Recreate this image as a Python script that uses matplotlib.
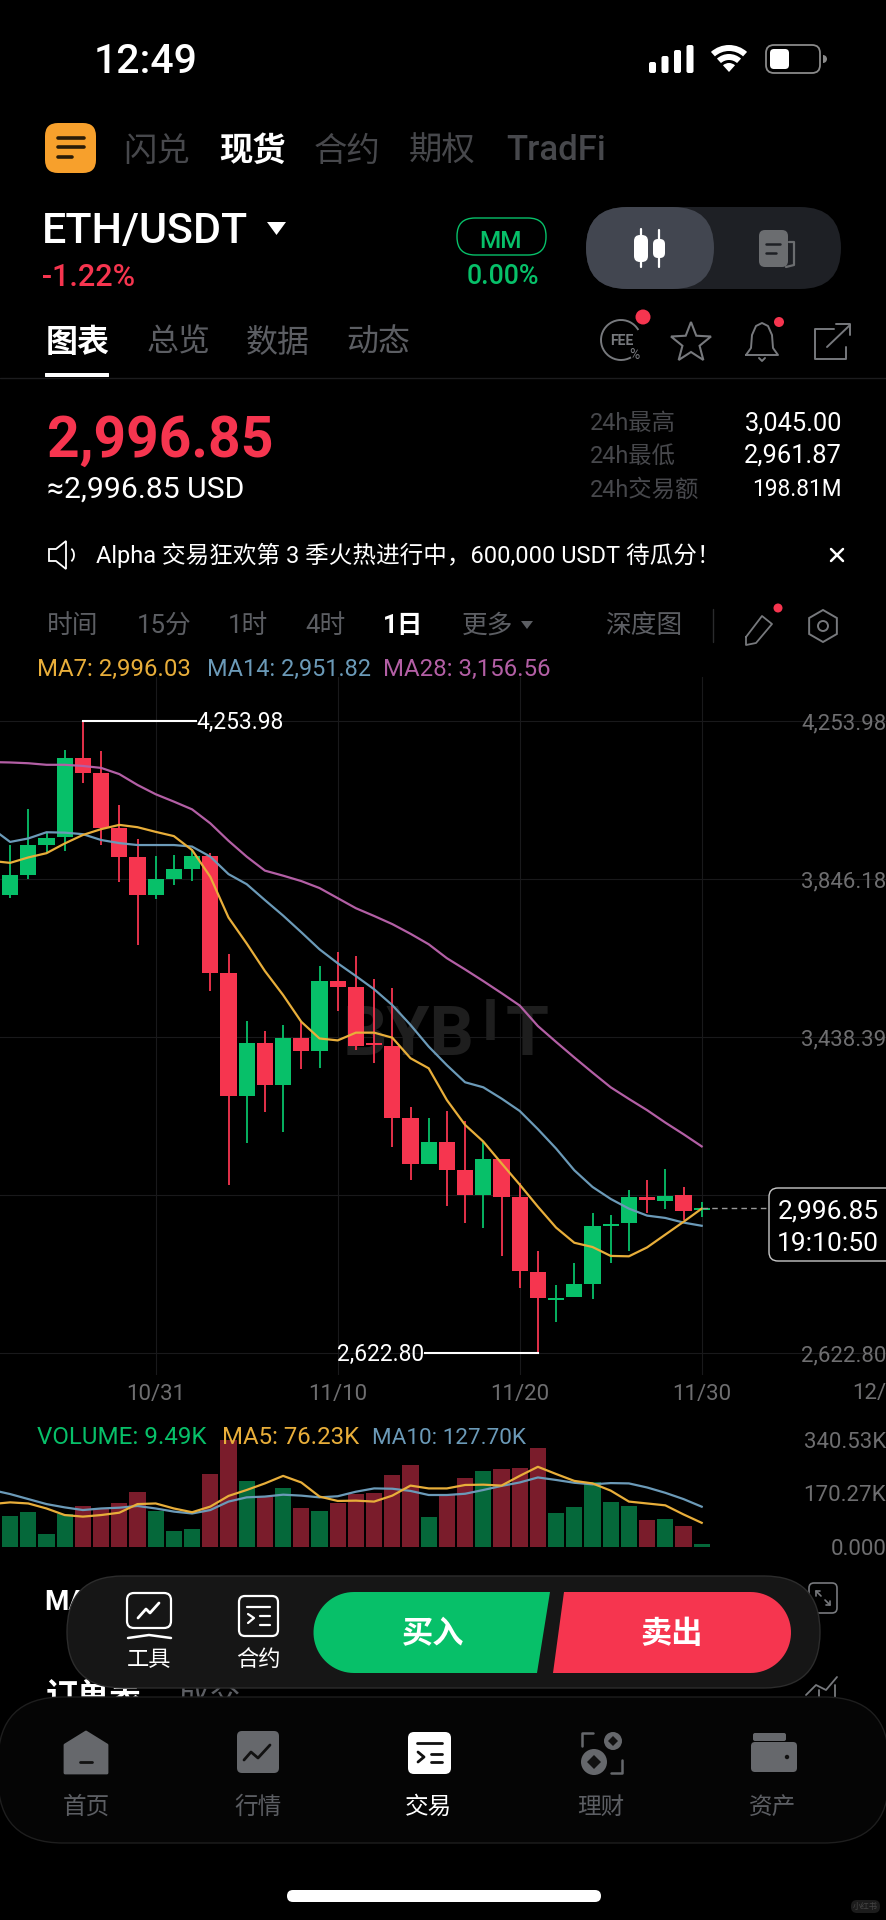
import numpy as np
import matplotlib
matplotlib.use("Agg")
import matplotlib.pyplot as plt
from matplotlib.patches import FancyBboxPatch, Polygon, Circle, Wedge, Arc

plt.rcParams['font.family'] = ['Roboto', 'Noto Sans CJK SC', 'DejaVu Sans']

# days counted from 10/31
days = list(range(-8, 31))
opens = [3805, 3857, 3935, 3954, 4158, 4120, 3979, 3902, 3804, 3847, 3873, 3906, 3603,
         3286, 3424, 3315, 3435, 3402, 3583, 3568, 3423, 3415, 3231, 3112, 3167, 3095,
         3031, 3123, 3025, 2833, 2760, 2769, 2802, 2952, 2960, 3025, 3015, 3030, 2992]
highs = [3934, 4027, 3968, 4179, 4253.98, 4176, 4036, 3949, 3905, 3908, 3925, 3914, 3654,
         3479, 3455, 3471, 3478, 3623, 3657, 3648, 3588, 3564, 3257, 3231, 3248, 3223,
         3168, 3123, 3063, 2886, 2799, 2857, 2986, 2979, 3044, 3070, 3098, 3052, 3012]
lows = [3797, 3846, 3913, 3919, 4095, 3933, 3839, 3676, 3796, 3831, 3840, 3557, 3057,
        3166, 3245, 3193, 3356, 3359, 3507, 3405, 3371, 3154, 3069, 3110, 3003, 2960,
        2945, 2874, 2790, 2622.80, 2704, 2768, 2763, 2856, 2887, 2985, 2994, 2966, 2975]
closes = [3856, 3934, 3953, 4158, 4121, 3979, 3903, 3804, 3846, 3872, 3906, 3603, 3286,
          3424, 3315, 3435, 3402, 3582, 3568, 3416, 3417, 3231, 3112, 3167, 3095, 3031,
          3123, 3026, 2834, 2766, 2765, 2801, 2952, 2957, 3025, 3018, 3029, 2989, 2996.85]

line_days = list(range(-9, 31))
ma7 = [3893, 3888, 3902, 3913, 3938, 3960, 3975, 3986, 3980, 3968, 3957, 3921, 3852, 3747,
       3680, 3609, 3547, 3478, 3435, 3430, 3450, 3450, 3437, 3384, 3358, 3276, 3212, 3169,
       3113, 3058, 3001, 2947, 2908, 2897, 2874, 2873, 2896, 2929, 2962, 2996.03]
ma14 = [3977, 3942, 3951, 3967, 3966, 3962, 3947, 3939, 3934, 3934, 3934, 3930, 3904, 3859,
        3833, 3792, 3752, 3709, 3665, 3629, 3596, 3562, 3521, 3470, 3414, 3366, 3322, 3309,
        3280, 3248, 3201, 3151, 3095, 3052, 3021, 2996, 2978, 2972, 2960, 2951.82]
ma28 = [4148, 4147, 4145, 4141, 4141, 4138, 4133, 4117, 4089, 4065, 4046, 4026, 3990, 3945,
        3904, 3868, 3855, 3841, 3823, 3797, 3771, 3751, 3730, 3705, 3678, 3642, 3613, 3583,
        3552, 3520, 3467, 3426, 3386, 3347, 3309, 3279, 3250, 3218, 3188, 3156.56]

# volume in K
volumes = [98, 110, 40, 104, 130, 122, 138, 176, 115, 50, 55, 232, 340.53, 209, 160, 188,
           122, 115, 140, 167, 172, 229, 262, 94, 165, 220, 243, 247, 250, 314, 106, 126,
           205, 143, 129, 86, 89, 66, 9.49]
vol_ma5 = [136, 141.5, 138, 122, 101, 96, 101, 108.5, 136, 138, 122, 110, 128, 162, 181, 202,
           226, 205, 160, 146, 147, 144, 163, 195, 186, 186, 197, 198, 195, 226, 255, 232,
           210, 202, 179, 144, 138, 132, 103, 76.23]
vol_ma10 = [181, 168, 152, 136, 125.5, 117, 122, 124.5, 130, 122, 112, 106, 117, 144, 157.5,
            160, 166, 163, 157.5, 161, 175.5, 186, 185, 178, 165, 165, 169, 181, 194, 205,
            221, 213, 204, 199, 203, 202, 189, 172, 152, 127.70]

price_ticks = [4253.98, 3846.18, 3438.39, 3030.60, 2622.80]
price_labels = ['4,253.98', '3,846.18', '3,438.39', '', '2,622.80']
date_ticks = [0, 10, 20, 30]
date_labels = ['10/31', '11/10', '11/20', '11/30']
vol_ticks = [340.53, 170.27, 0]
vol_labels = ['340.53K', '170.27K', '0.000']

GREEN = '#07c069'
RED = '#f6354f'
YELLOW = '#e8ae3a'
BLUE = '#6b9ab8'
PURPLE = '#b35fa5'
GRAY = '#5c5e63'
DARKGRAY = '#47484c'
AXISGRAY = '#6e6e70'
MARK = '#1e1e1e'

W, H = 887, 1920
fig = plt.figure(figsize=(W / 100, H / 100), dpi=100, facecolor='black')

px_day = 18.2
x0 = 155.7
xlim = (-x0 / px_day, (W - x0) / px_day)
per_px = (4253.98 - 2622.80) / (1353.3 - 721)

# price panel
top, bottom = 677, 1375
ax = fig.add_axes([0, 1 - bottom / H, 1, (bottom - top) / H], facecolor='black')
ax.set_xlim(xlim)
ax.set_ylim(2622.80 - (bottom - 1353.3) * per_px, 4253.98 + (721 - top) * per_px)
for s in ax.spines.values():
    s.set_visible(False)
ax.set_xticks(date_ticks, date_labels)
ax.set_yticks(price_ticks, price_labels)
ax.yaxis.tick_right()
ax.tick_params(axis='x', length=0, pad=6.5, labelsize=16, labelcolor=AXISGRAY)
ax.tick_params(axis='y', length=0, pad=-0.5, labelsize=16, labelcolor=AXISGRAY)
plt.setp(ax.get_yticklabels(), ha='right')
ax.grid(True, color='#19191b', lw=0.8)
ax.set_axisbelow(True)

ax.text(10.25, 3440, 'BYB', fontsize=50, fontweight='bold', color=MARK, zorder=1, ha='left', va='center')
ax.text(18.4, 3470, 'I', fontsize=42, fontweight='bold', color=MARK, zorder=1, ha='center', va='center')
ax.text(19.2, 3440, 'T', fontsize=50, fontweight='bold', color=MARK, zorder=1, ha='left', va='center')

colors = [GREEN if c >= o else RED for o, c in zip(opens, closes)]
ax.vlines(days, lows, highs, colors=colors, lw=1.3, zorder=2)
ax.bar(days, [abs(c - o) for o, c in zip(opens, closes)], bottom=[min(o, c) for o, c in zip(opens, closes)],
       width=0.88, color=colors, linewidth=0, zorder=2)
ax.plot(line_days, ma28, color=PURPLE, lw=1.6, zorder=3)
ax.plot(line_days, ma14, color=BLUE, lw=1.6, zorder=3)
ax.plot(line_days, ma7, color=YELLOW, lw=1.6, zorder=3)

# max and min markers
ax.plot([-4, 2.2], [4253.98, 4253.98], color='white', lw=1.5, zorder=4)
ax.text(2.25, 4250, '4,253.98', color='white', fontsize=16.4, va='center', ha='left', zorder=4)
ax.plot([14.8, 21], [2622.80, 2622.80], color='white', lw=1.5, zorder=4)
ax.text(14.75, 2619, '2,622.80', color='white', fontsize=16.4, va='center', ha='right', zorder=4)
ax.plot([30, 33.7], [2996.85, 2996.85], color='#9a9a9a', lw=1, ls=(0, (4, 3)), zorder=4)

# volume panel
vtop, vbottom = 1440, 1546.7
vax = fig.add_axes([0, 1 - vbottom / H, 1, (vbottom - vtop) / H], facecolor='none')
vax.set_xlim(xlim)
vax.set_ylim(0, 340.53)
for s in vax.spines.values():
    s.set_visible(False)
vax.set_xticks([])
vax.set_yticks(vol_ticks, vol_labels)
vax.yaxis.tick_right()
vax.tick_params(axis='y', length=0, pad=-0.5, labelsize=16, labelcolor=AXISGRAY)
plt.setp(vax.get_yticklabels(), ha='right')
vcolors = ['#05683a' if c == GREEN else '#7a1c2b' for c in colors]
vax.bar(days, volumes, width=0.88, color=vcolors, linewidth=0)
vax.plot(line_days, vol_ma10, color=BLUE, lw=1.6)
vax.plot(line_days, vol_ma5, color=YELLOW, lw=1.6)

# everything around the chart, in pixels
ui = fig.add_axes([0, 0, 1, 1], facecolor='none')
ui.set_xlim(0, W)
ui.set_ylim(H, 0)
ui.axis('off')


def t(x, y, s, size, color='white', ha='left', weight='normal', z=5):
    return ui.text(x, y, s, fontsize=size, color=color, ha=ha, va='center', fontweight=weight, zorder=z)


def box(x, y, w, h, r, fc, ec='none', lw=0, z=3):
    p = FancyBboxPatch((x, y), w, h, boxstyle='round,pad=0,rounding_size=%g' % r, fc=fc, ec=ec, lw=lw, zorder=z)
    ui.add_patch(p)
    return p


def seg(xs, ys, color='white', lw=1.5, z=6):
    ui.plot(xs, ys, color=color, lw=lw, solid_capstyle='round', zorder=z)


# the last date is cut by the screen edge in the app
t(852, 1394, '12/', 16, AXISGRAY)

# status bar
t(94, 62, '12:49', 29.5, weight='medium')
for i, h in enumerate([11, 17, 23, 28]):
    box(649 + i * 12.5, 73 - h, 7, h, 2, 'white')
ui.add_patch(Wedge((729, 72), 27, 228, 312, width=6, fc='white', ec='none'))
ui.add_patch(Wedge((729, 72), 18, 228, 312, width=6, fc='white', ec='none'))
ui.add_patch(Wedge((729, 72), 9, 228, 312, fc='white', ec='none'))
box(766, 45, 54, 28, 8, 'none', ec='#8a8a8a', lw=1.3)
box(770, 49, 19, 20, 4, 'white')
ui.add_patch(Wedge((823, 59), 4, 270, 90, fc='#8a8a8a', ec='none'))

# top tabs
box(45, 123, 51, 50, 13, '#f7a02c')
for yy, x2 in [(138, 84), (147, 84), (157, 72)]:
    seg([58, x2], [yy, yy], color='#2a1c08', lw=2.6)
t(123, 152, '闪兑', 24, DARKGRAY)
t(219, 152, '现货', 24, weight='bold')
t(314, 152, '合约', 24, DARKGRAY)
t(409, 152, '期权', 24, DARKGRAY)
t(506, 150, 'TradFi', 25, DARKGRAY, weight='medium')

# symbol row
t(42, 232, 'ETH/USDT', 31, weight='medium')
ui.add_patch(Polygon([(267, 222), (286, 222), (276.5, 235)], fc='white', ec='none'))
t(42, 277, '-1.22%', 22, RED, weight='medium')
box(457, 218, 89, 37, 18, 'none', ec=GREEN, lw=1)
t(501, 241, 'MM', 17.5, GREEN, ha='center', weight='medium')
t(503, 276, '0.00%', 19.3, GREEN, ha='center', weight='medium')
box(586, 207, 255, 82, 41, '#1e2025')
box(586, 207, 128, 82, 41, '#424650', z=4)
seg([641, 641], [229, 267], lw=1.6)
box(634, 235, 14, 27, 6, 'white', z=6)
seg([659, 659], [230, 267], lw=1.6)
box(653, 239, 12, 19, 5, 'white', z=6)
box(759, 230, 29, 37, 6, '#6b6d70', z=5)
seg([789, 794, 794, 786], [242, 242, 265, 267], color='#6b6d70', lw=1.6)
seg([766, 780], [244, 244], color='#1e2025', lw=1.8)
seg([766, 776], [253, 253], color='#1e2025', lw=1.8)

# section tabs
t(46, 343, '图表', 23, weight='bold')
t(147, 343, '总览', 23, GRAY)
t(246, 343, '数据', 23, GRAY)
t(346, 343, '动态', 23, GRAY)
box(45, 373, 64, 4, 0.5, 'white')
seg([0, W], [377.5, 377.5], color='#1c1c1e', lw=1, z=2)

ui.add_patch(Arc((621, 340), 40, 40, theta1=60, theta2=330, color='#77797d', lw=1.4, zorder=5))
t(622, 341, 'FEE', 10, '#77797d', ha='center', weight='bold')
t(634, 355, '%', 10, '#77797d', ha='center')
ui.add_patch(Circle((643, 317), 7.5, fc=RED, ec='none', zorder=6))
ang = np.deg2rad(np.arange(-90, 270, 36))
rad = np.where(np.arange(10) % 2 == 0, 21, 9)
ui.add_patch(Polygon(np.c_[691 + rad * np.cos(ang), 343 + rad * np.sin(ang)], fc='none', ec='#77797d', lw=1.5, zorder=5))
seg([746, 751, 752, 756, 762, 768, 772, 773, 778, 746], [355, 348, 335, 326, 323, 326, 335, 348, 355, 355], color='#77797d', lw=1.4)
seg([759, 762, 765], [358, 361, 358], color='#77797d', lw=1.4)
ui.add_patch(Circle((779, 322), 5, fc=RED, ec='none', zorder=6))
seg([834, 815, 815, 846, 846], [329, 329, 359, 359, 347], color='#77797d', lw=1.4)
seg([827, 850], [347, 325], color='#77797d', lw=1.4)
seg([836, 850, 850], [324, 324, 335], color='#77797d', lw=1.4)

# price block
t(47, 441, '2,996.85', 41, RED, weight='bold')
t(47, 490, '≈2,996.85 USD', 21.7)
t(590, 423, '24h最高', 16.8, DARKGRAY)
t(590, 456, '24h最低', 16.8, DARKGRAY)
t(590, 490, '24h交易额', 16.8, DARKGRAY)
t(842, 423, '3,045.00', 18.4, ha='right')
t(842, 456, '2,961.87', 18.4, ha='right')
t(842, 489, '198.81M', 16.3, ha='right')

# notice
ui.add_patch(Polygon([(49, 549), (56, 549), (66, 541), (66, 569), (56, 561), (49, 561)], fc='none', ec='white', lw=1.3, zorder=5))
ui.add_patch(Arc((69, 555), 10, 14, theta1=-70, theta2=70, color='white', lw=1.3, zorder=5))
t(96, 555, 'Alpha 交易狂欢第 3 季火热进行中，600,000 USDT 待瓜分！', 17)
seg([831, 843], [549, 561], lw=1.8)
seg([843, 831], [549, 561], lw=1.8)

# interval row
t(47, 626, '时间', 18.5, GRAY)
t(137, 626, '15分', 18.5, GRAY)
t(228, 626, '1时', 18.5, GRAY)
t(305, 626, '4时', 18.5, GRAY)
t(383, 626, '1日', 18.5, weight='bold')
t(462, 626, '更多', 18.5, GRAY)
ui.add_patch(Polygon([(521, 621), (533, 621), (527, 629)], fc=GRAY, ec='none'))
t(605, 626, '深度图', 18.5, GRAY)
seg([713, 713], [609, 642], color='#2a2b2d', lw=1)
seg([746, 762, 772, 756, 746, 746], [637, 616, 624, 643, 645, 637], color='#77797d', lw=1.3)
ui.add_patch(Circle((778, 608), 4.5, fc=RED, ec='none', zorder=6))
hex_a = np.deg2rad(np.arange(-90, 270, 60))
ui.add_patch(Polygon(np.c_[823 + 16 * np.cos(hex_a), 626 + 16 * np.sin(hex_a)], fc='none', ec='#77797d', lw=1.4, zorder=5))
ui.add_patch(Circle((823, 626), 5, fc='none', ec='#77797d', lw=1.4, zorder=5))

# legends
t(37, 669, 'MA7: 2,996.03', 17.3, YELLOW)
t(207, 669, 'MA14: 2,951.82', 16.9, BLUE)
t(383, 669, 'MA28: 3,156.56', 17.3, PURPLE)
t(37, 1438, 'VOLUME: 9.49K', 17.4, GREEN)
t(222, 1438, 'MA5: 76.23K', 17.3, YELLOW)
t(372, 1438, 'MA10: 127.70K', 16.2, BLUE)

# last price tag
box(769, 1188, 140, 73, 9, 'black', ec='#c8c8c8', lw=1, z=4)
t(828, 1212, '2,996.85', 19, ha='center')
t(828, 1244, '19:10:50', 19, ha='center')

# content behind the floating bar
t(44, 1602, 'MA', 20, weight='bold', z=1)
t(46, 1697, '订单表', 23, weight='bold', z=1)
t(178, 1697, '成交', 23, GRAY, z=1)
box(809, 1583, 28, 30, 5, 'none', ec='#77797d', lw=1.2, z=1)
seg([816, 821], [1591, 1596], color='#77797d', lw=1.2, z=1)
seg([816, 816, 820], [1596, 1591, 1591], color='#77797d', lw=1.2, z=1)
seg([825, 830], [1600, 1605], color='#77797d', lw=1.2, z=1)
seg([826, 830, 830], [1605, 1605, 1601], color='#77797d', lw=1.2, z=1)
seg([806, 816, 826, 837], [1695, 1685, 1690, 1677], color='#77797d', lw=1.3, z=1)
seg([819, 819], [1690, 1700], color='#77797d', lw=1.3, z=1)
seg([835, 835], [1685, 1700], color='#77797d', lw=1.3, z=1)

# floating bar
box(67, 1576, 753, 112, 56, '#161616', ec='#2c2c2c', lw=1, z=2)
box(127, 1593, 44, 35, 7, 'none', ec='white', lw=1.6, z=4)
seg([138, 146, 150, 159], [1618, 1609, 1613, 1603], lw=2)
seg([128, 149, 171], [1638, 1635, 1638], lw=1.8)
t(149, 1661, '工具', 16, ha='center')
box(239, 1596, 39, 40, 6, 'none', ec='white', lw=1.6, z=4)
seg([247, 270], [1607, 1607], lw=1.6)
seg([248, 254, 248], [1614, 1618, 1623], lw=1.6)
seg([260, 270], [1616, 1616], lw=1.6)
seg([260, 270], [1625, 1625], lw=1.6)
t(258.5, 1661, '合约', 16, ha='center')

arc = np.deg2rad(np.linspace(90, 270, 40))
buy_pts = np.c_[354 + 40.5 * np.cos(arc), 1632.5 - 40.5 * np.sin(arc)]
ui.add_patch(Polygon(np.vstack([[[550, 1592]], buy_pts, [[537, 1673]]]), fc=GREEN, ec='none', zorder=4))
sell_pts = np.c_[750.5 - 40.5 * np.cos(arc), 1632.5 - 40.5 * np.sin(arc)]
ui.add_patch(Polygon(np.vstack([[[564, 1592]], sell_pts, [[553, 1673]]]), fc=RED, ec='none', zorder=4))
t(433, 1634, '买入', 22.5, ha='center', weight='bold')
t(672, 1634, '卖出', 22.5, ha='center', weight='bold')

# nav panel
box(-2, 1697, W + 4, 146, 65, '#050505', ec='#1e1e1e', lw=1, z=2.5)
NAVI = '#66686c'
ui.add_patch(Polygon([(65, 1745), (86, 1732), (107, 1745), (107, 1773), (65, 1773)], fc=NAVI, ec=NAVI, lw=2, joinstyle='round', zorder=5))
seg([80, 92], [1762, 1762], color='#111111', lw=2)
box(237, 1731, 42, 42, 5, NAVI, z=5)
seg([244, 251, 258, 270], [1760, 1752, 1758, 1745], color='#111111', lw=2)
box(408, 1732, 43, 42, 6, 'white', z=5)
seg([417, 442], [1743, 1743], color='#111111', lw=2)
seg([418, 424, 418], [1752, 1757, 1762], color='#111111', lw=2)
seg([431, 442], [1754, 1754], color='#111111', lw=2)
seg([431, 442], [1762, 1762], color='#111111', lw=2)
ui.add_patch(Circle((613, 1741), 9, fc=NAVI, ec='none', zorder=5))
ui.add_patch(Circle((594, 1762), 13, fc=NAVI, ec='none', zorder=5))
ui.add_patch(Polygon([(613, 1736), (618, 1741), (613, 1746), (608, 1741)], fc='#111111', ec='none', zorder=6))
ui.add_patch(Polygon([(594, 1755), (601, 1762), (594, 1769), (587, 1762)], fc='#111111', ec='none', zorder=6))
seg([582, 582, 593], [1746, 1733, 1733], color=NAVI, lw=1.8)
seg([611, 622, 622], [1773, 1773, 1760], color=NAVI, lw=1.8)
box(751, 1742, 46, 30, 4, NAVI, z=5)
box(753, 1733, 33, 8, 2, NAVI, z=5)
ui.add_patch(Circle((787, 1757), 2.2, fc='#111111', ec='none', zorder=6))
t(86, 1807, '首页', 17, GRAY, ha='center')
t(258, 1807, '行情', 17, GRAY, ha='center')
t(429, 1807, '交易', 17, ha='center')
t(601, 1807, '理财', 17, GRAY, ha='center')
t(773, 1807, '资产', 17, GRAY, ha='center')

box(287, 1890, 314, 12, 6, 'white')
box(851, 1900, 29, 13, 6, '#1c1c1c')
t(865.5, 1906.5, '小红书', 6, '#444444', ha='center')

fig.savefig('out.png', dpi=100, facecolor='black')
